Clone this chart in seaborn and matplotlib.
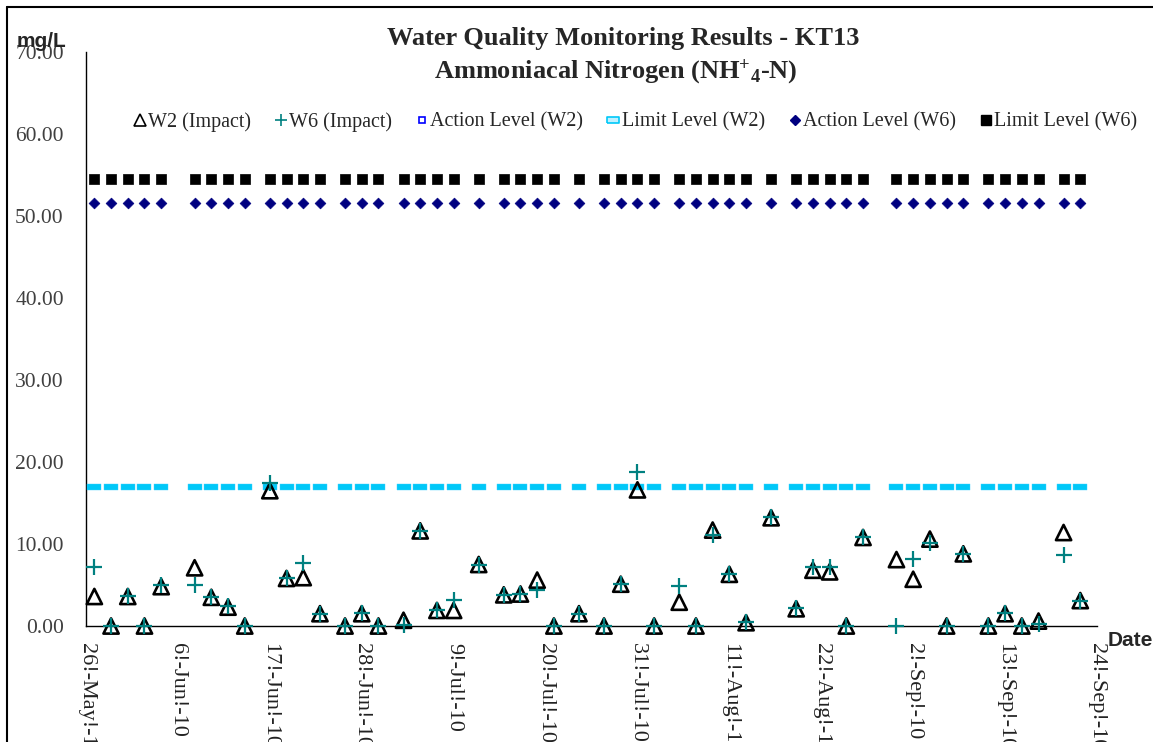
import matplotlib
matplotlib.use("Agg")
import matplotlib.pyplot as plt
from matplotlib.lines import Line2D
import numpy as np
import pandas as pd
import seaborn as sns

# ---------------- data ----------------
dates = ["2010-05-27", "2010-05-29", "2010-05-31", "2010-06-02", "2010-06-04",
         "2010-06-08", "2010-06-10", "2010-06-12", "2010-06-14",
         "2010-06-17", "2010-06-19", "2010-06-21", "2010-06-23",
         "2010-06-26", "2010-06-28", "2010-06-30",
         "2010-07-03", "2010-07-05", "2010-07-07", "2010-07-09",
         "2010-07-12",
         "2010-07-15", "2010-07-17", "2010-07-19", "2010-07-21",
         "2010-07-24",
         "2010-07-27", "2010-07-29", "2010-07-31", "2010-08-02",
         "2010-08-05", "2010-08-07", "2010-08-09", "2010-08-11", "2010-08-13",
         "2010-08-16",
         "2010-08-19", "2010-08-21", "2010-08-23", "2010-08-25", "2010-08-27",
         "2010-08-31", "2010-09-02", "2010-09-04", "2010-09-06", "2010-09-08",
         "2010-09-11", "2010-09-13", "2010-09-15", "2010-09-17",
         "2010-09-20", "2010-09-22"]

w2_impact = [3.6, 0.0, 3.6, 0.0, 4.8,
             7.1, 3.5, 2.3, 0.0,
             16.5, 5.8, 5.9, 1.5,
             0.0, 1.5, 0.0,
             0.7, 11.6, 1.9, 1.9,
             7.5,
             3.8, 3.9, 5.6, 0.0,
             1.5,
             0.0, 5.1, 16.6, 0.0,
             2.9, 0.0, 11.7, 6.3, 0.4,
             13.2,
             2.1, 6.8, 6.6, 0.0, 10.8,
             8.1, 5.7, 10.6, 0.0, 8.8,
             0.0, 1.5, 0.0, 0.6,
             11.4, 3.1]

w6_impact = [7.2, 0.0, 3.6, 0.0, 5.0,
             5.0, 3.5, 2.4, 0.0,
             17.4, 5.8, 7.7, 1.5,
             0.0, 1.6, 0.0,
             0.1, 11.6, 2.0, 3.2,
             7.5,
             3.8, 3.9, 4.4, 0.0,
             1.5,
             0.0, 5.1, 18.8, 0.0,
             4.9, 0.0, 11.1, 6.3, 0.5,
             13.3,
             2.2, 7.2, 7.2, 0.0, 10.8,
             0.0, 8.2, 10.1, 0.0, 8.8,
             0.0, 1.6, 0.0, 0.2,
             8.6, 3.1]

limit_level_w2 = [17.0] * len(dates)
action_level_w6 = [51.6] * len(dates)
limit_level_w6 = [54.5] * len(dates)

series_labels = ["W2 (Impact)", "W6 (Impact)", "Action Level (W2)",
                 "Limit Level (W2)", "Action Level (W6)", "Limit Level (W6)"]

xtick_dates = ["2010-05-26", "2010-06-06", "2010-06-17", "2010-06-28",
               "2010-07-09", "2010-07-20", "2010-07-31", "2010-08-11",
               "2010-08-22", "2010-09-02", "2010-09-13", "2010-09-24"]
xtick_labels = ["26!-May!-10", "6!-Jun!-10", "17!-Jun!-10", "28!-Jun!-10",
                "9!-Jul!-10", "20!-Jul!-10", "31!-Jul!-10", "11!-Aug!-10",
                "22!-Aug!-10", "2!-Sep!-10", "13!-Sep!-10", "24!-Sep!-10"]
ytick_values = [0, 10, 20, 30, 40, 50, 60, 70]
ytick_labels = ["0.00", "10.00", "20.00", "30.00", "40.00", "50.00", "60.00", "70.00"]

# ---------------- style ----------------
sns.set_style("white")
plt.rcParams["font.family"] = ["Liberation Serif", "DejaVu Serif"]
plt.rcParams["mathtext.fontset"] = "custom"
plt.rcParams["mathtext.rm"] = "Liberation Serif"
plt.rcParams["mathtext.bf"] = "Liberation Serif:bold"
plt.rcParams["mathtext.it"] = "Liberation Serif:italic"

W, H = 1153, 742
fig = plt.figure(figsize=(W / 100, H / 100), dpi=100)
ax = fig.add_axes([86 / W, 1 - 626 / H, (1097 - 86) / W, (626 - 52) / H])

df = pd.DataFrame({
    "date": pd.to_datetime(dates),
    "w2": w2_impact,
    "w6": w6_impact,
    "lw2": limit_level_w2,
    "aw6": action_level_w6,
    "lw6": limit_level_w6,
})

rect = [(-5, -2), (5, -2), (5, 2), (-5, 2), (-5, -2)]

sns.scatterplot(data=df, x="date", y="lw6", marker="s", s=52, color="black",
                edgecolor="black", linewidth=0.5, ax=ax, zorder=3, clip_on=False)
sns.scatterplot(data=df, x="date", y="aw6", marker="D", s=30, color="#000080",
                edgecolor="#000080", linewidth=0.5, ax=ax, zorder=3, clip_on=False)
sns.scatterplot(data=df, x="date", y="lw2", marker=rect, s=105, color="#00C8F8",
                edgecolor="#40D0FF", linewidth=0.3, ax=ax, zorder=3, clip_on=False)
sns.scatterplot(data=df, x="date", y="w2", marker="^", s=120, color="black",
                facecolor="none", edgecolor="black", linewidth=1.9, ax=ax,
                zorder=5, clip_on=False)
sns.scatterplot(data=df, x="date", y="w6", marker="+", s=130, color="#008080",
                linewidth=1.6, ax=ax, zorder=6, clip_on=False)

# ---------------- axes ----------------
ax.set_xlim(pd.Timestamp("2010-05-26"), pd.Timestamp("2010-09-24"))
ax.set_ylim(0, 70)
ax.set_xticks(pd.to_datetime(xtick_dates))
ax.set_xticklabels(xtick_labels, rotation=270, fontsize=16, color="#222222",
                   va="top", ha="center")
ax.set_yticks(ytick_values)
ax.set_yticklabels(ytick_labels, fontsize=15.5, color="#404040")
ax.tick_params(axis="both", direction="in", length=5, width=1.0, color="black")
ax.tick_params(axis="y", pad=16)
ax.tick_params(axis="x", pad=12)
ax.set_xlabel("")
ax.set_ylabel("")
for side in ["top", "right"]:
    ax.spines[side].set_visible(False)
for side in ["left", "bottom"]:
    ax.spines[side].set_color("black")
    ax.spines[side].set_linewidth(1.0)
ax.grid(False)
if ax.get_legend() is not None:
    ax.get_legend().remove()

# ---------------- legend ----------------
small_rect = [(-2, -1), (2, -1), (2, 1), (-2, 1), (-2, -1)]
handles = [
    Line2D([], [], ls="", marker="^", ms=8, mfc="none", mec="black", mew=1.2),
    Line2D([], [], ls="", marker="+", ms=9, mec="#008080", mew=1.2),
    Line2D([], [], ls="", marker="s", ms=4.5, mfc="white", mec="#0000FF", mew=1.2),
    Line2D([], [], ls="", marker=small_rect, ms=8, mfc="#BFF0FF", mec="#00C8F8", mew=1.2),
    Line2D([], [], ls="", marker="D", ms=5, mfc="#000080", mec="#000080"),
    Line2D([], [], ls="", marker="s", ms=7, mfc="black", mec="black"),
]
fig.legend(handles, series_labels, loc="center", bbox_to_anchor=(636 / W, 1 - 122 / H),
           ncol=6, frameon=False, fontsize=14.5, handlelength=0.5,
           handletextpad=0.15, columnspacing=1.25, borderpad=0)

# ---------------- texts ----------------
fig.text(623 / W, 1 - 45 / H, "Water Quality Monitoring Results - KT13",
         ha="center", va="baseline", fontsize=19, fontweight="bold")
fig.text(616 / W, 1 - 78 / H,
         r"Ammoniacal Nitrogen (NH$^{\mathbf{+}}$$_{\mathbf{4}}$-N)",
         ha="center", va="baseline", fontsize=19, fontweight="bold")
fig.text(17 / W, 1 - 47 / H, "mg/L", ha="left", va="baseline", fontsize=15,
         fontweight="bold", family=["Liberation Sans", "DejaVu Sans"])
fig.text(1108 / W, 1 - 646 / H, "Date", ha="left", va="baseline", fontsize=15,
         fontweight="bold", family=["Liberation Sans", "DejaVu Sans"])

# chart border
fig.add_artist(Line2D([7 / W, 7 / W], [0, 1 - 7 / H], transform=fig.transFigure,
                      color="black", lw=1.5))
fig.add_artist(Line2D([7 / W, 1], [1 - 7 / H, 1 - 7 / H], transform=fig.transFigure,
                      color="black", lw=1.5))

fig.savefig("out.png", dpi=100)
